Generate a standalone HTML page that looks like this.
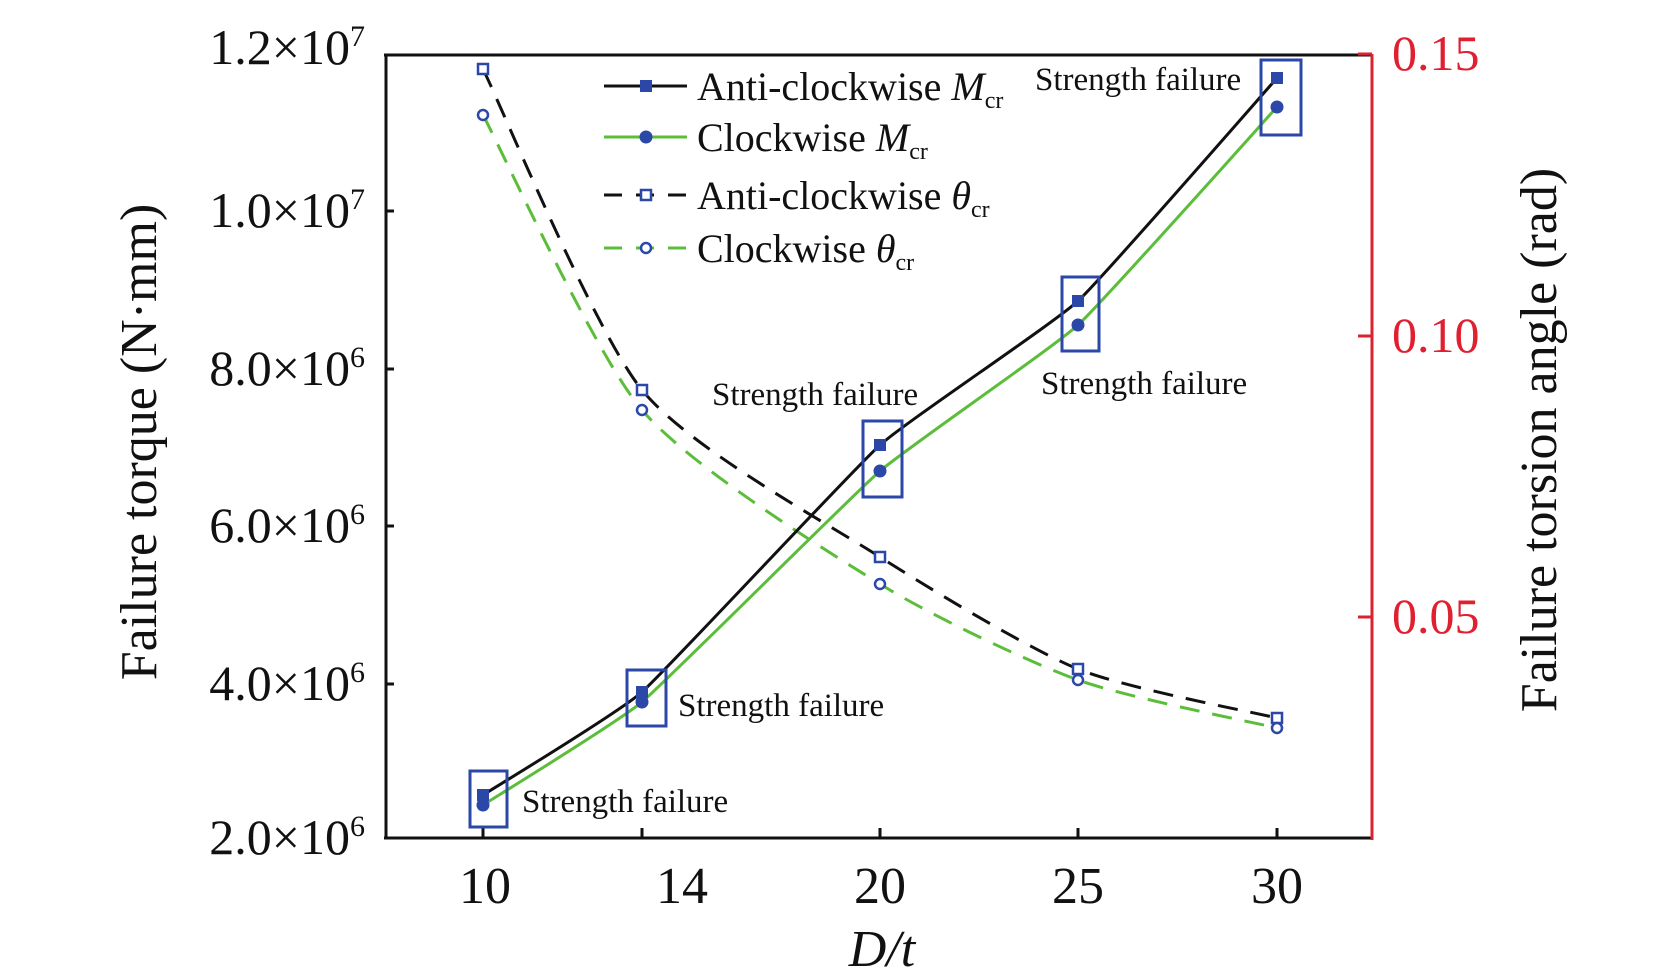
<!DOCTYPE html>
<html><head><meta charset="utf-8"><style>
html,body{margin:0;padding:0;background:#fff;}
svg{display:block;}
text{font-family:"Liberation Serif",serif;}
</style></head><body>
<svg id="s" width="1673" height="980" viewBox="0 0 1673 980" xmlns="http://www.w3.org/2000/svg">
<g stroke="#111" stroke-width="3" fill="none">
<line x1="386" y1="55" x2="386" y2="838"/>
<line x1="384" y1="55" x2="1372" y2="55"/>
<line x1="384" y1="838" x2="1372" y2="838"/>
<line x1="483" y1="838" x2="483" y2="828"/><line x1="642" y1="838" x2="642" y2="828"/><line x1="880" y1="838" x2="880" y2="828"/><line x1="1078" y1="838" x2="1078" y2="828"/><line x1="1277" y1="838" x2="1277" y2="828"/>
<line x1="386" y1="684" x2="394" y2="684"/><line x1="386" y1="526" x2="394" y2="526"/><line x1="386" y1="369" x2="394" y2="369"/><line x1="386" y1="211" x2="394" y2="211"/>
</g>
<g stroke="#d9232e" stroke-width="3">
<line x1="1372" y1="54" x2="1372" y2="840"/>
<line x1="1358" y1="54" x2="1372" y2="54"/><line x1="1358" y1="336" x2="1372" y2="336"/><line x1="1358" y1="617" x2="1372" y2="617"/>
</g>
<g font-size="50" fill="#111" text-anchor="end">
<text x="365" y="64">1.2×10<tspan dy="-18" font-size="30">7</tspan></text>
<text x="365" y="227">1.0×10<tspan dy="-18" font-size="30">7</tspan></text>
<text x="365" y="385">8.0×10<tspan dy="-18" font-size="30">6</tspan></text>
<text x="365" y="542">6.0×10<tspan dy="-18" font-size="30">6</tspan></text>
<text x="365" y="700">4.0×10<tspan dy="-18" font-size="30">6</tspan></text>
<text x="365" y="854">2.0×10<tspan dy="-18" font-size="30">6</tspan></text>
</g>
<g font-size="50" fill="#e02030">
<text x="1392" y="70">0.15</text><text x="1392" y="352">0.10</text><text x="1392" y="633">0.05</text>
</g>
<g font-size="52" fill="#111" text-anchor="middle">
<text x="485" y="903">10</text><text x="682" y="903">14</text><text x="880" y="903">20</text><text x="1078" y="903">25</text><text x="1277" y="903">30</text>
<text x="882" y="966" font-style="italic">D/t</text>
<text transform="translate(156,442) rotate(-90)">Failure torque (N·mm)</text>
<text transform="translate(1556,440) rotate(-90)">Failure torsion angle (rad)</text>
</g>
<g id="curves"></g>
<g stroke="#2b47a8" stroke-width="3" fill="none">
<rect x="470" y="771" width="37" height="56"/><rect x="627" y="670" width="39" height="56"/><rect x="863" y="421" width="39" height="76"/><rect x="1062" y="277" width="37" height="74"/><rect x="1261" y="60" width="40" height="75"/>
</g>
<g font-size="33" fill="#111">
<text x="522" y="812">Strength failure</text><text x="678" y="716">Strength failure</text><text x="712" y="405">Strength failure</text><text x="1041" y="394">Strength failure</text><text x="1035" y="90">Strength failure</text>
</g>
<g font-size="40" fill="#111">
<line x1="604" y1="86" x2="687" y2="86" stroke="#111" stroke-width="3"/><rect x="640" y="80" width="12" height="12" fill="#2b47a8"/>
<text x="697" y="100">Anti-clockwise <tspan font-style="italic">M</tspan><tspan font-size="24" dy="8">cr</tspan></text>
<line x1="604" y1="137" x2="687" y2="137" stroke="#5cbd3a" stroke-width="3"/><circle cx="646" cy="137" r="6.5" fill="#2b47a8"/>
<text x="697" y="151">Clockwise <tspan font-style="italic">M</tspan><tspan font-size="24" dy="8">cr</tspan></text>
<line x1="604" y1="195" x2="687" y2="195" stroke="#111" stroke-width="3" stroke-dasharray="18,14"/><rect x="641" y="190" width="10" height="10" fill="#fff" stroke="#2b47a8" stroke-width="2.5"/>
<text x="697" y="209">Anti-clockwise <tspan font-style="italic">θ</tspan><tspan font-size="24" dy="8">cr</tspan></text>
<line x1="604" y1="248" x2="687" y2="248" stroke="#5cbd3a" stroke-width="3" stroke-dasharray="18,14"/><circle cx="646" cy="248" r="5" fill="#fff" stroke="#2b47a8" stroke-width="2.5"/>
<text x="697" y="262">Clockwise <tspan font-style="italic">θ</tspan><tspan font-size="24" dy="8">cr</tspan></text>
</g>
</svg>
<script>
(function(){
var xs=[483,642,880,1078,1277];
var S={am:[795,692,445,301,78],cm:[805,702,471,325,107],at:[69,390,557,669,718],ct:[115,410,584,680,728]};
function path(ys,t){var p=xs.map(function(x,i){return [x,ys[i]];});var d="M"+p[0][0]+","+p[0][1];
for(var i=0;i<p.length-1;i++){var p0=p[i-1]||p[i],p1=p[i],p2=p[i+1],p3=p[i+2]||p2;
d+=" C"+(p1[0]+(p2[0]-p0[0])*t)+","+(p1[1]+(p2[1]-p0[1])*t)+" "+(p2[0]-(p3[0]-p1[0])*t)+","+(p2[1]-(p3[1]-p1[1])*t)+" "+p2[0]+","+p2[1];}
return d;}
var g=document.getElementById("curves"),h="";
h+='<path d="'+path(S.at,0.12)+'" fill="none" stroke="#111" stroke-width="3" stroke-dasharray="20,13"/>';
h+='<path d="'+path(S.ct,0.12)+'" fill="none" stroke="#5cbd3a" stroke-width="3" stroke-dasharray="20,13"/>';
h+='<path d="'+path(S.am,0.06)+'" fill="none" stroke="#111" stroke-width="3"/>';
h+='<path d="'+path(S.cm,0.06)+'" fill="none" stroke="#5cbd3a" stroke-width="3"/>';
xs.forEach(function(x,i){
h+='<rect x="'+(x-6)+'" y="'+(S.am[i]-6)+'" width="12" height="12" fill="#2b47a8"/>';
h+='<circle cx="'+x+'" cy="'+S.cm[i]+'" r="6.5" fill="#2b47a8"/>';
h+='<rect x="'+(x-5)+'" y="'+(S.at[i]-5)+'" width="10" height="10" fill="#fff" stroke="#2b47a8" stroke-width="2.5"/>';
h+='<circle cx="'+x+'" cy="'+S.ct[i]+'" r="5" fill="#fff" stroke="#2b47a8" stroke-width="2.5"/>';
});
g.innerHTML=h;
})();
</script>
</body></html>
